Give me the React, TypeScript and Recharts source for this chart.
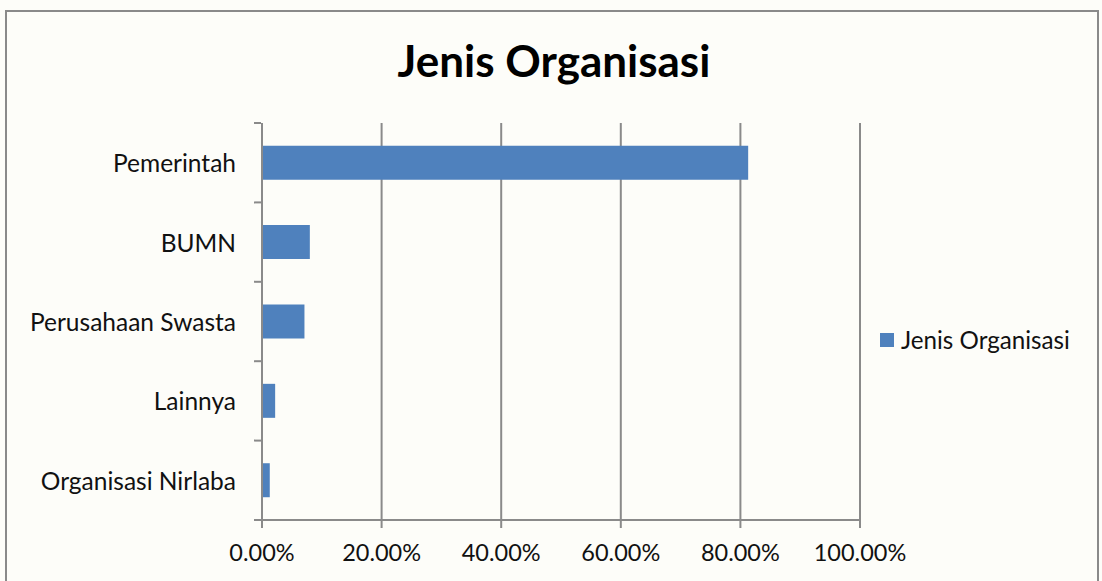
import { Bar, BarChart, CartesianGrid, Legend, XAxis, YAxis } from "recharts";

const categories = ["Pemerintah", "BUMN", "Perusahaan Swasta", "Lainnya", "Organisasi Nirlaba"];
const shares = [0.813, 0.08, 0.071, 0.022, 0.013];
const xTicks = [0, 0.2, 0.4, 0.6, 0.8, 1];
const seriesName = "Jenis Organisasi";

const data = categories.map((name, i) => ({ name, value: shares[i] }));

const FONT = "Lato, 'Open Sans', sans-serif";
const GRID = "#8a8a8a";
const BAR = "#4f81bd";

function CategoryTick(props: any) {
  const { x, y, payload, index } = props;
  const half = payload.offset || 0;
  const last = index === categories.length - 1;
  return (
    <g>
      <line x1={x} x2={x + 7} y1={y - half} y2={y - half} stroke={GRID} strokeWidth={2} />
      {last && <line x1={x} x2={x + 7} y1={y + half} y2={y + half} stroke={GRID} strokeWidth={2} />}
      <text x={x - 18} y={y} textAnchor="end" dominantBaseline="central" fontSize={24.5} fill="#111" fontFamily={FONT}>
        {payload.value}
      </text>
    </g>
  );
}

function LegendBox(props: any) {
  const item = props.payload?.[0];
  return (
    <div style={{ display: "flex", alignItems: "center", fontFamily: FONT, fontSize: 24.2, color: "#111", marginLeft: 20 }}>
      <span style={{ width: 14, height: 14, background: item?.color || BAR, marginRight: 7 }} />
      <span>{item?.value || seriesName}</span>
    </div>
  );
}

export default function App() {
  return (
    <div style={{ position: "absolute", left: 0, top: 0, width: 1102, height: 581, background: "#fdfdf9", overflow: "hidden" }}>
      <div
        style={{
          position: "absolute",
          left: 5,
          top: 10,
          width: 1090,
          height: 600,
          border: "2px solid #8a8a8a",
        }}
      />
      <div
        style={{
          position: "absolute",
          left: 0,
          width: 1108,
          top: 34,
          textAlign: "center",
          fontFamily: FONT,
          fontWeight: 700,
          fontSize: 44,
          color: "#000",
        }}
      >
        Jenis Organisasi
      </div>
      <BarChart
        width={1102}
        height={581}
        data={data}
        layout="vertical"
        margin={{ top: 123, right: 20, bottom: 0, left: 0 }}
        barCategoryGap="28.5%"
        style={{ position: "absolute", left: 0, top: 0 }}
      >
        <CartesianGrid horizontal={false} stroke={GRID} strokeWidth={2} />
        <XAxis
          type="number"
          domain={[0, 1]}
          ticks={xTicks}
          height={61}
          tickFormatter={(v: number) => `${(v * 100).toFixed(2)}%`}
          stroke={GRID}
          strokeWidth={2}
          tickSize={8}
          tick={{ fill: "#111", fontSize: 23.5, fontFamily: FONT, dy: 14 }}
          interval={0}
        />
        <YAxis
          type="category"
          dataKey="name"
          width={262}
          stroke={GRID}
          strokeWidth={2}
          tickLine={false}
          tick={<CategoryTick />}
          interval={0}
        />
        <Legend
          layout="vertical"
          align="right"
          verticalAlign="middle"
          content={<LegendBox />}
          wrapperStyle={{ width: 222, top: 325, right: 20 }}
        />
        <Bar dataKey="value" name={seriesName} fill={BAR} isAnimationActive={false} />
      </BarChart>
    </div>
  );
}
